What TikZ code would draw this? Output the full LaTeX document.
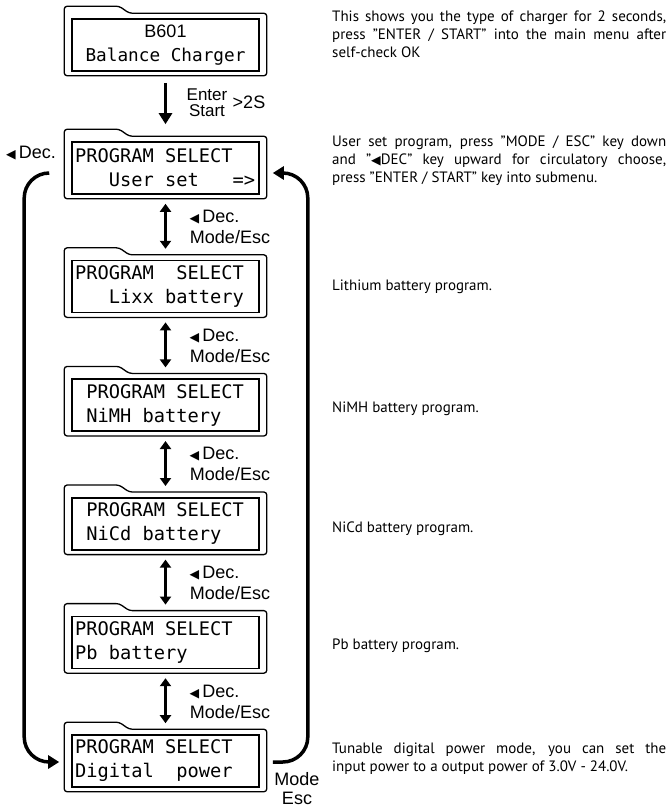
\documentclass[tikz,border=0pt]{standalone}
\usepackage{fontspec}
\setmainfont{PT Sans}
\newfontfamily\lcdfont{DejaVu Sans Mono}
\newfontfamily\keyfont{Liberation Sans}
\newfontfamily\symfont{DejaVu Sans}
\usetikzlibrary{arrows.meta}
\newcommand{\decmark}{{\symfont\fontsize{12.5}{10}\selectfont ◀}}
% one character cell of the display
\newcommand{\cell}{\phantom{0}}
\tikzset{
  lcd/.style={draw, line width=1.6pt, minimum width=187pt, minimum height=52pt,
    inner xsep=3pt, inner ysep=0pt, text width=181pt, align=left,
    font=\lcdfont\fontsize{18.7}{24}\selectfont},
  frame/.style={line width=1.3pt, rounded corners=3pt},
  keylab/.style={font=\keyfont\fontsize{18}{20}\selectfont, inner sep=0pt, align=center},
  desc/.style={anchor=north west, inner sep=0pt, text width=334pt, align=justify,
    font=\fontsize{15}{18}\selectfont},
  arrow/.style={line width=3.5pt, -{Triangle[length=11pt,width=13pt]}},
  dblarrow/.style={line width=3pt, {Triangle[length=8pt,width=11pt]}-{Triangle[length=8pt,width=11pt]},
    shorten <=9pt, shorten >=11pt},
}
\begin{document}
\begin{tikzpicture}[x=1pt, y=-1pt]
  \useasboundingbox (0,0) rectangle (671,809);

  % display screens
  \node[lcd, align=center, font=\lcdfont\fontsize{17.7}{24}\selectfont] (b601) at (165.5,45)
    {{\keyfont\fontsize{18}{24}\selectfont B601}\\Balance\cell Charger};
  \node[lcd] (user) at (165.5,168)
    {PROGRAM\cell SELECT\\\cell\cell\cell User\cell set\cell\cell\cell=>};
  \node[lcd] (lixx) at (165.5,286.6)
    {PROGRAM\cell\cell SELECT\\\cell\cell\cell Lixx\cell battery};
  \node[lcd] (nimh) at (165.5,405.2)
    {\cell PROGRAM\cell SELECT\\\cell NiMH\cell battery};
  \node[lcd] (nicd) at (165.5,523.8)
    {\cell PROGRAM\cell SELECT\\\cell NiCd\cell battery};
  \node[lcd] (pb) at (165.5,642.4)
    {PROGRAM\cell SELECT\\Pb\cell battery};
  \node[lcd] (digital) at (165.5,761)
    {PROGRAM\cell SELECT\\Digital\cell\cell power};

  % outer case with the tab
  \foreach \n in {b601,user,lixx,nimh,nicd,pb,digital}
    \draw[frame] ([xshift=-7pt,yshift=-4pt]\n.south west)
      -- ([xshift=-7pt,yshift=12pt]\n.north west)
      -- ([xshift=48pt,yshift=12pt]\n.north west)
      -- ([xshift=58pt,yshift=5pt]\n.north west)
      -- ([xshift=7pt,yshift=5pt]\n.north east)
      -- ([xshift=7pt,yshift=-4pt]\n.south east) -- cycle;

  % start up
  \draw[arrow, shorten <=11pt, shorten >=17pt] (b601) -- (user)
    node[midway, keylab, xshift=41.5pt, yshift=3.5pt, font=\keyfont\fontsize{17}{16}\selectfont] (enter) {Enter\\Start}
    node[midway, keylab, xshift=83.5pt, yshift=4pt] (twosec) {>2S};

  % stepping through the programs
  \foreach \a/\b in {user/lixx, lixx/nimh, nimh/nicd, nicd/pb, pb/digital}
    \draw[dblarrow] (\a) -- (\b)
      node[midway, keylab, xshift=49pt, yshift=10pt] (dec-\a) {\decmark\,Dec.}
      node[midway, keylab, xshift=64.5pt, yshift=-10pt] (mode-\a) {Mode/Esc};

  % wrap round
  \draw[arrow, rounded corners=25pt] ([xshift=-22pt,yshift=-5pt]user.west)
    -| ([xshift=-47pt,yshift=-1pt]digital.west) -- ([xshift=-12pt,yshift=-1pt]digital.west);
  \draw[arrow, rounded corners=25pt] ([xshift=13pt,yshift=-1pt]digital.east)
    -| ([xshift=48pt,yshift=-5pt]user.east) -- ([xshift=13pt,yshift=-5pt]user.east);
  \node[keylab] (dec-wrap) at (31,153) {\decmark\,Dec.};
  \node[keylab, font=\keyfont\fontsize{18}{19}\selectfont] (mode-wrap) at (297,789) {Mode\\Esc};

  % notes
  \node[desc] (note-b601) at (332,11) {This shows you the type of charger for 2 seconds,\linebreak
    press "ENTER / START" into the main menu after\linebreak self-check OK};
  \node[desc] (note-user) at (332,136) {User set program, press "MODE / ESC" key down\linebreak
    and "\decmark DEC" key upward for circulatory choose,\linebreak
    press "ENTER / START" key into submenu.};
  \node[desc] (note-lixx) at (332,280) {Lithium battery program.};
  \node[desc] (note-nimh) at (332,402) {NiMH battery program.};
  \node[desc] (note-nicd) at (332,522) {NiCd battery program.};
  \node[desc] (note-pb) at (332,639) {Pb battery program.};
  \node[desc] (note-digital) at (332,743) {Tunable digital power mode, you can set the\linebreak
    input power to a output power of 3.0V - 24.0V.};
\end{tikzpicture}
\end{document}
